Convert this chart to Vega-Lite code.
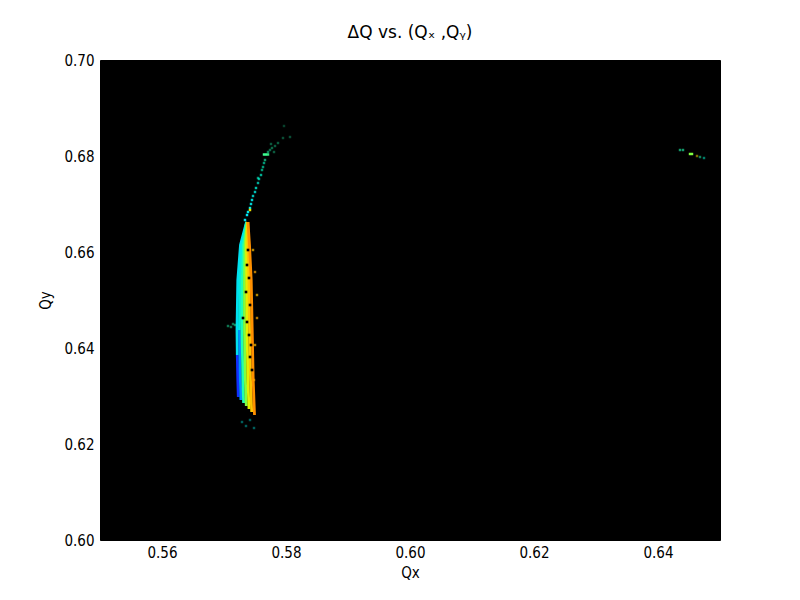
{
  "$schema": "https://vega.github.io/schema/vega-lite/v6.json",
  "width": 620,
  "height": 480,
  "autosize": {"type": "none"},
  "padding": {"left": 100, "top": 60, "right": 80, "bottom": 60},
  "background": "white",
  "view": {"fill": "black", "stroke": "black"},
  "title": {
    "text": "ΔQ vs. (Qₓ ,Qᵧ)",
    "font": "DejaVu Sans",
    "fontSize": 17,
    "fontWeight": "normal",
    "color": "black",
    "offset": 11,
    "anchor": "middle"
  },
  "datasets": {
    "stripes": [
      {"seg": "s0a", "dq": 0.0, "qx": 0.572145, "qy": 0.638542},
      {"seg": "s0a", "dq": 0.0, "qx": 0.572226, "qy": 0.633333},
      {"seg": "s0a", "dq": 0.0, "qx": 0.572306, "qy": 0.629792},
      {"seg": "s0b", "dq": 0.3, "qx": 0.573629, "qy": 0.66625},
      {"seg": "s0b", "dq": 0.3, "qx": 0.572661, "qy": 0.661458},
      {"seg": "s0b", "dq": 0.3, "qx": 0.572226, "qy": 0.654167},
      {"seg": "s0b", "dq": 0.3, "qx": 0.572097, "qy": 0.64375},
      {"seg": "s0b", "dq": 0.3, "qx": 0.572145, "qy": 0.638542},
      {"seg": "s1a", "dq": 0.15, "qx": 0.572489, "qy": 0.64375},
      {"seg": "s1a", "dq": 0.15, "qx": 0.57264, "qy": 0.633333},
      {"seg": "s1a", "dq": 0.15, "qx": 0.572726, "qy": 0.629167},
      {"seg": "s1b", "dq": 0.35, "qx": 0.573669, "qy": 0.66625},
      {"seg": "s1b", "dq": 0.35, "qx": 0.572903, "qy": 0.661458},
      {"seg": "s1b", "dq": 0.35, "qx": 0.572585, "qy": 0.654167},
      {"seg": "s1b", "dq": 0.35, "qx": 0.572489, "qy": 0.64375},
      {"seg": "s2", "dq": 0.45, "qx": 0.57371, "qy": 0.66625},
      {"seg": "s2", "dq": 0.45, "qx": 0.573145, "qy": 0.661458},
      {"seg": "s2", "dq": 0.45, "qx": 0.572947, "qy": 0.654167},
      {"seg": "s2", "dq": 0.45, "qx": 0.572898, "qy": 0.64375},
      {"seg": "s2", "dq": 0.45, "qx": 0.573053, "qy": 0.633333},
      {"seg": "s2", "dq": 0.45, "qx": 0.573161, "qy": 0.628542},
      {"seg": "s3", "dq": 0.6, "qx": 0.57375, "qy": 0.66625},
      {"seg": "s3", "dq": 0.6, "qx": 0.573387, "qy": 0.661458},
      {"seg": "s3", "dq": 0.6, "qx": 0.573306, "qy": 0.654167},
      {"seg": "s3", "dq": 0.6, "qx": 0.573306, "qy": 0.64375},
      {"seg": "s3", "dq": 0.6, "qx": 0.573452, "qy": 0.633333},
      {"seg": "s3", "dq": 0.6, "qx": 0.573597, "qy": 0.627917},
      {"seg": "s4", "dq": 0.75, "qx": 0.57379, "qy": 0.66625},
      {"seg": "s4", "dq": 0.75, "qx": 0.573629, "qy": 0.661458},
      {"seg": "s4", "dq": 0.75, "qx": 0.573666, "qy": 0.654167},
      {"seg": "s4", "dq": 0.75, "qx": 0.573715, "qy": 0.64375},
      {"seg": "s4", "dq": 0.75, "qx": 0.573866, "qy": 0.633333},
      {"seg": "s4", "dq": 0.75, "qx": 0.574032, "qy": 0.627292},
      {"seg": "s5", "dq": 0.88, "qx": 0.573831, "qy": 0.66625},
      {"seg": "s5", "dq": 0.88, "qx": 0.573871, "qy": 0.661458},
      {"seg": "s5", "dq": 0.88, "qx": 0.574027, "qy": 0.654167},
      {"seg": "s5", "dq": 0.88, "qx": 0.574124, "qy": 0.64375},
      {"seg": "s5", "dq": 0.88, "qx": 0.574279, "qy": 0.633333},
      {"seg": "s5", "dq": 0.88, "qx": 0.574468, "qy": 0.626667},
      {"seg": "s6", "dq": 1.0, "qx": 0.573871, "qy": 0.66625},
      {"seg": "s6", "dq": 1.0, "qx": 0.574113, "qy": 0.661458},
      {"seg": "s6", "dq": 1.0, "qx": 0.574387, "qy": 0.654167},
      {"seg": "s6", "dq": 1.0, "qx": 0.574548, "qy": 0.64375},
      {"seg": "s6", "dq": 1.0, "qx": 0.57471, "qy": 0.633333},
      {"seg": "s6", "dq": 1.0, "qx": 0.574919, "qy": 0.626042}
    ],
    "gaps": [
      {"qx": 0.573871, "qy": 0.660417},
      {"qx": 0.57371, "qy": 0.657292},
      {"qx": 0.574032, "qy": 0.654583},
      {"qx": 0.573548, "qy": 0.651667},
      {"qx": 0.574194, "qy": 0.648958},
      {"qx": 0.573065, "qy": 0.64625},
      {"qx": 0.57371, "qy": 0.645417},
      {"qx": 0.574032, "qy": 0.642708},
      {"qx": 0.574355, "qy": 0.640625},
      {"qx": 0.574194, "qy": 0.638125},
      {"qx": 0.574516, "qy": 0.635417}
    ],
    "dots": [
      {"qx": 0.573387, "qy": 0.666667, "dq": 0.3, "w": 1.0},
      {"qx": 0.57371, "qy": 0.667708, "dq": 0.3, "w": 1.0},
      {"qx": 0.573871, "qy": 0.668333, "dq": 0.32, "w": 1.0},
      {"qx": 0.574194, "qy": 0.669167, "dq": 0.35, "w": 1.0},
      {"qx": 0.574194, "qy": 0.66875, "dq": 0.8, "w": 1.0},
      {"qx": 0.574355, "qy": 0.67, "dq": 0.33, "w": 0.9},
      {"qx": 0.574516, "qy": 0.670833, "dq": 0.33, "w": 0.9},
      {"qx": 0.574677, "qy": 0.671667, "dq": 0.35, "w": 0.8},
      {"qx": 0.575, "qy": 0.6725, "dq": 0.35, "w": 0.8},
      {"qx": 0.575161, "qy": 0.673333, "dq": 0.38, "w": 0.8},
      {"qx": 0.575484, "qy": 0.674375, "dq": 0.38, "w": 0.7},
      {"qx": 0.575484, "qy": 0.675417, "dq": 0.4, "w": 0.6},
      {"qx": 0.575645, "qy": 0.675208, "dq": 0.4, "w": 0.7},
      {"qx": 0.575968, "qy": 0.676042, "dq": 0.4, "w": 0.7},
      {"qx": 0.576129, "qy": 0.677083, "dq": 0.42, "w": 0.6},
      {"qx": 0.57629, "qy": 0.677708, "dq": 0.42, "w": 0.6},
      {"qx": 0.576452, "qy": 0.678542, "dq": 0.42, "w": 0.6},
      {"qx": 0.576613, "qy": 0.679167, "dq": 0.45, "w": 0.6},
      {"qx": 0.576452, "qy": 0.680313, "dq": 0.5, "w": 1.0},
      {"qx": 0.576774, "qy": 0.680313, "dq": 0.5, "w": 1.0},
      {"qx": 0.577097, "qy": 0.680313, "dq": 0.5, "w": 0.9},
      {"qx": 0.577097, "qy": 0.680833, "dq": 0.45, "w": 0.5},
      {"qx": 0.577419, "qy": 0.68125, "dq": 0.45, "w": 0.4},
      {"qx": 0.577742, "qy": 0.681667, "dq": 0.45, "w": 0.4},
      {"qx": 0.577581, "qy": 0.6825, "dq": 0.45, "w": 0.35},
      {"qx": 0.578226, "qy": 0.682083, "dq": 0.45, "w": 0.35},
      {"qx": 0.578065, "qy": 0.680833, "dq": 0.45, "w": 0.35},
      {"qx": 0.57871, "qy": 0.682708, "dq": 0.45, "w": 0.35},
      {"qx": 0.579516, "qy": 0.68375, "dq": 0.45, "w": 0.3},
      {"qx": 0.580645, "qy": 0.683958, "dq": 0.45, "w": 0.3},
      {"qx": 0.579677, "qy": 0.68625, "dq": 0.45, "w": 0.25},
      {"qx": 0.570645, "qy": 0.644583, "dq": 0.45, "w": 0.45},
      {"qx": 0.571129, "qy": 0.644375, "dq": 0.45, "w": 0.45},
      {"qx": 0.571452, "qy": 0.645, "dq": 0.45, "w": 0.45},
      {"qx": 0.571774, "qy": 0.644792, "dq": 0.45, "w": 0.5},
      {"qx": 0.643548, "qy": 0.68125, "dq": 0.45, "w": 0.6},
      {"qx": 0.644032, "qy": 0.68125, "dq": 0.45, "w": 0.6},
      {"qx": 0.645161, "qy": 0.680417, "dq": 0.6, "w": 1.0},
      {"qx": 0.645484, "qy": 0.680417, "dq": 0.6, "w": 1.0},
      {"qx": 0.64629, "qy": 0.68, "dq": 0.8, "w": 0.5},
      {"qx": 0.646774, "qy": 0.679792, "dq": 0.45, "w": 0.5},
      {"qx": 0.647419, "qy": 0.679583, "dq": 0.4, "w": 0.5},
      {"qx": 0.574677, "qy": 0.660417, "dq": 0.9, "w": 0.7},
      {"qx": 0.575, "qy": 0.655833, "dq": 0.95, "w": 0.7},
      {"qx": 0.575323, "qy": 0.651042, "dq": 0.9, "w": 0.7},
      {"qx": 0.575323, "qy": 0.64625, "dq": 0.95, "w": 0.7},
      {"qx": 0.575, "qy": 0.640625, "dq": 0.9, "w": 0.7},
      {"qx": 0.574839, "qy": 0.633333, "dq": 0.95, "w": 0.7},
      {"qx": 0.572903, "qy": 0.624583, "dq": 0.35, "w": 0.4},
      {"qx": 0.573548, "qy": 0.62375, "dq": 0.35, "w": 0.4},
      {"qx": 0.574194, "qy": 0.625, "dq": 0.35, "w": 0.4},
      {"qx": 0.574839, "qy": 0.623333, "dq": 0.35, "w": 0.4}
    ]
  },
  "encoding": {
    "x": {
      "field": "qx", "type": "quantitative", "title": "Qx",
      "scale": {"domain": [0.55, 0.65], "nice": false, "zero": false},
      "axis": {"values": [0.56, 0.58, 0.6, 0.62, 0.64], "format": ".2f", "grid": false, "ticks": false, "domain": false,
        "labelFont": "DejaVu Sans Condensed, DejaVu Sans", "labelFontSize": 15, "labelColor": "black", "labelPadding": 5,
        "titleFont": "DejaVu Sans Condensed, DejaVu Sans", "titleFontSize": 15, "titleFontWeight": "normal", "titleColor": "black", "titlePadding": 5}
    },
    "y": {
      "field": "qy", "type": "quantitative", "title": "Qy",
      "scale": {"domain": [0.6, 0.7], "nice": false, "zero": false},
      "axis": {"values": [0.6, 0.62, 0.64, 0.66, 0.68, 0.7], "format": ".2f", "grid": false, "ticks": false, "domain": false,
        "labelFont": "DejaVu Sans Condensed, DejaVu Sans", "labelFontSize": 15, "labelColor": "black", "labelPadding": 6,
        "titleFont": "DejaVu Sans Condensed, DejaVu Sans", "titleFontSize": 15, "titleFontWeight": "normal", "titleColor": "black", "titlePadding": 10}
    }
  },
  "layer": [
    {
      "data": {"name": "stripes"},
      "mark": {"type": "line", "strokeWidth": 2.8, "clip": true},
      "encoding": {
        "detail": {"field": "seg", "type": "nominal"},
        "order": {"field": "qy", "type": "quantitative"},
        "color": {"field": "dq", "type": "quantitative", "legend": null,
          "scale": {"domain": [0, 0.15, 0.3, 0.45, 0.6, 0.75, 0.9, 1], "range": ["#1030ff", "#0090ff", "#00e0f0", "#20ffb0", "#80ff40", "#e0f000", "#ffc000", "#ff9000"]}}
      }
    },
    {
      "data": {"name": "gaps"},
      "mark": {"type": "square", "filled": true, "size": 7, "color": "black", "opacity": 1, "clip": true},
      "encoding": {}
    },
    {
      "data": {"name": "dots"},
      "mark": {"type": "square", "filled": true, "size": 6, "clip": true},
      "encoding": {
        "color": {"field": "dq", "type": "quantitative", "legend": null},
        "opacity": {"field": "w", "type": "quantitative", "legend": null, "scale": {"domain": [0, 1], "range": [0, 1]}}
      }
    }
  ]
}
